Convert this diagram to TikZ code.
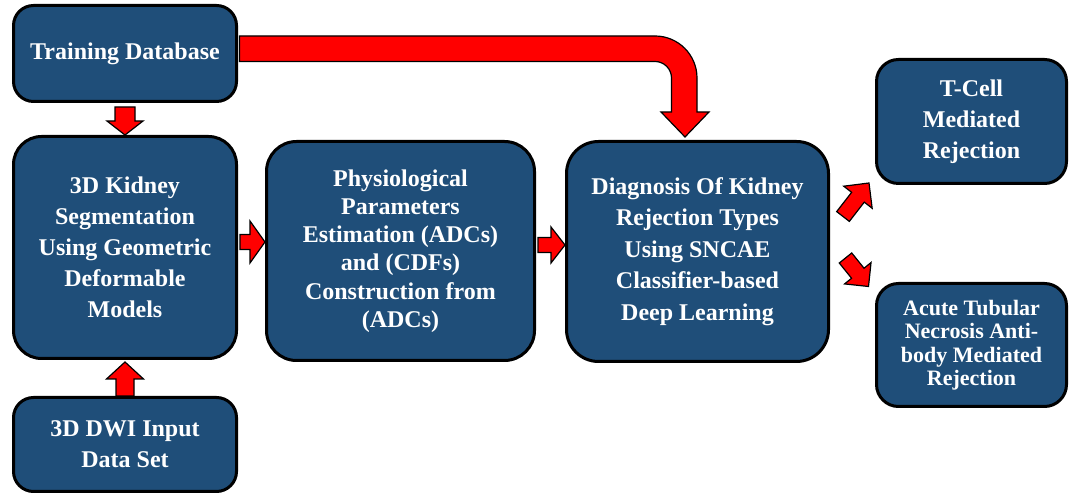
\documentclass[tikz,border=0pt]{standalone}
\usepackage{fontspec}
\setmainfont{Liberation Serif}
\usepackage{tikz}
\usepackage{xcolor}
\usetikzlibrary{calc}

\definecolor{boxblue}{RGB}{31,78,121}
\definecolor{arrowred}{RGB}{255,0,0}

% straight block arrow: from, to, shaft half width, head half width, head length
\newcommand{\blockarrow}[5]{%
  \draw[flow] let \p1=(#1), \p2=(#2),
    \n1={atan2(\y2-\y1,\x2-\x1)}, \n2={veclen(\x2-\x1,\y2-\y1)-#5} in
    ($(\p1)+(\n1+90:#3)$) -- ($(\p1)+(\n1:\n2)+(\n1+90:#3)$) -- ($(\p1)+(\n1:\n2)+(\n1+90:#4)$)
    -- (\p2) -- ($(\p1)+(\n1:\n2)+(\n1-90:#4)$) -- ($(\p1)+(\n1:\n2)+(\n1-90:#3)$)
    -- ($(\p1)+(\n1-90:#3)$) -- cycle;%
}

\begin{document}
\begin{tikzpicture}[
  x=1pt, y=1pt,
  stage/.style={draw=black, line width=3pt, fill=boxblue, rounded corners=24pt, text=white, align=center, inner sep=0pt, font=\bfseries\fontsize{24}{31}\selectfont},
  flow/.style={draw=black, line width=1.2pt, fill=arrowred, line join=miter}
]
\useasboundingbox (0,0) rectangle (1070,497);

% Boxes
\node[stage, rounded corners=20pt, minimum width=223pt, minimum height=96pt] (td) at (125,443.5) {Training Database};
\node[stage, rounded corners=28pt, minimum width=223pt, minimum height=222pt] (kid) at (125,249.5) {3D Kidney\\Segmentation\\Using Geometric\\Deformable\\Models};
\node[stage, rounded corners=20pt, minimum width=223pt, minimum height=94pt] (dwi) at (125,52.5) {3D DWI Input\\Data Set};
\node[stage, rounded corners=30pt, minimum width=268pt, minimum height=219pt, font=\bfseries\fontsize{24}{28.2}\selectfont] (phys) at (400.5,246) {Physiological\\Parameters\\Estimation (ADCs)\\and (CDFs)\\Construction from\\(ADCs)};
\node[stage, rounded corners=32pt, minimum width=262pt, minimum height=220pt, font=\bfseries\fontsize{24}{31.6}\selectfont] (diag) at (697.5,245.5) {Diagnosis Of Kidney\\Rejection Types\\Using SNCAE\\Classifier-based\\Deep Learning};
\node[stage, rounded corners=22pt, minimum width=190pt, minimum height=124pt] (tcell) at (971.5,375.5) {T-Cell\\Mediated\\Rejection};
\node[stage, rounded corners=22pt, minimum width=190pt, minimum height=123pt, font=\bfseries\fontsize{22}{23.5}\selectfont] (atn) at (971.5,152) {Acute Tubular\\Necrosis Anti-\\body Mediated\\Rejection};

% Arrows into segmentation
\blockarrow{$(td.south)+(0,-4)$}{kid.north}{10pt}{18pt}{14pt}
\blockarrow{dwi.north}{$(kid.south)+(0,-2)$}{9pt}{18.5pt}{17pt}

% Arrows along the pipeline
\coordinate (k1) at ($(kid.east)+(2,5.5)$);
\coordinate (p1) at ($(phys.east)+(2,6)$);
\blockarrow{k1}{k1 -| phys.west}{7.5pt}{21pt}{15pt}
\blockarrow{p1}{p1 -| diag.west}{7.5pt}{18pt}{14pt}

% Arrows to rejection types
\coordinate (t1) at ($(diag.east)+(13,35)$);
\coordinate (t2) at ($(tcell.south west)+(-6,2)$);
\coordinate (a1) at ($(diag.east)+(15.5,-6.5)$);
\coordinate (a2) at ($(atn.north west)+(-6.5,-4.5)$);
\blockarrow{t1}{t2}{8pt}{18pt}{18pt}
\blockarrow{a1}{a2}{8pt}{17pt}{17pt}

% Training database to diagnosis
\draw[flow] ($(td.east)+(1.5,17.5)$) -- (655,461) arc[start angle=90, end angle=0, radius=42]
  -- (697,385) -- (709,385) -- ($(diag.north)+(-12.5,3)$) -- (661,385) -- (671.5,385)
  -- (671.5,419) arc[start angle=0, end angle=90, radius=16.5] -- ($(td.east)+(1.5,-8)$) -- cycle;

\end{tikzpicture}
\end{document}
